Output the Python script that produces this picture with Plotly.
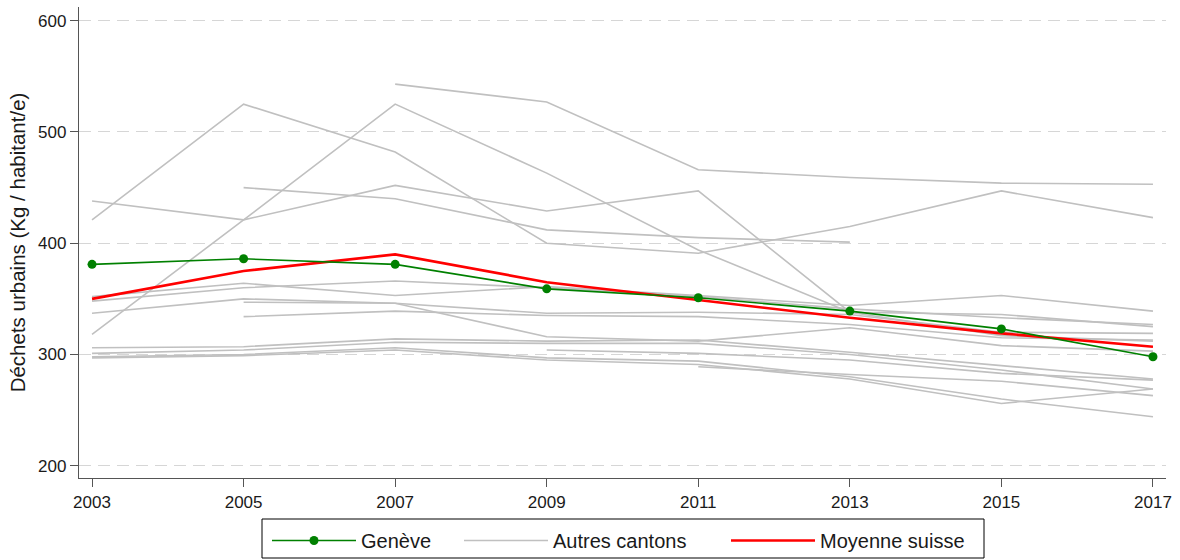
import plotly.graph_objects as go

years = [2003, 2005, 2007, 2009, 2011, 2013, 2015, 2017]
tick_years = [2003, 2005, 2007, 2009, 2011, 2013, 2015, 2017]
y_ticks = [200, 300, 400, 500, 600]

geneve = [381, 386, 381, 359, 351, 339, 323, 298]
moyenne_suisse = [350, 375, 390, 365, 349, 333, 319, 307]

canton_01 = [None, None, 543, 527, 466, 459, 454, 453]
canton_02 = [421, 525, 482, 400, 391, 415, 447, 423]
canton_03 = [None, 450, 440, 412, 405, 401, None, None]
canton_04 = [438, 421, 452, 429, 447, 338, 317, 312]
canton_05 = [318, 421, 525, 463, 394, 338, 336, 325]
canton_06 = [352, 364, 353, 361, 353, 344, 353, 339]
canton_07 = [348, 360, 366, 360, 352, 341, 333, 327]
canton_08 = [337, 350, 346, 337, 338, 336, 320, 319]
canton_09 = [None, 334, 339, 335, 334, 327, 315, 313]
canton_10 = [None, 347, 346, 316, 312, 324, 308, 303]
canton_11 = [306, 307, 314, 312, 313, 302, 290, 278]
canton_12 = [301, 304, 311, 310, 310, 300, 286, 269]
canton_13 = [298, 300, 306, 297, 294, 280, 260, 244]
canton_14 = [297, 299, 304, 295, 291, 278, 256, 269]
canton_15 = [None, None, None, 304, 301, 295, 283, 277]
canton_16 = [None, None, None, None, 289, 282, 276, 263]

autres = [canton_01, canton_02, canton_03, canton_04, canton_05, canton_06,
          canton_07, canton_08, canton_09, canton_10, canton_11, canton_12,
          canton_13, canton_14, canton_15, canton_16]

FONT = "Liberation Sans, Arial, sans-serif"
fig = go.Figure()

for i, vals in enumerate(autres):
    fig.add_trace(go.Scatter(
        x=years, y=vals, mode="lines", name="Autres cantons",
        line=dict(color="#c0c0c0", width=1.6),
        legend="legend2", legendgroup="autres", showlegend=(i == 0),
        connectgaps=False, hoverinfo="skip"))

fig.add_trace(go.Scatter(
    x=years, y=moyenne_suisse, mode="lines", name="Moyenne suisse",
    line=dict(color="#ff0000", width=2.6), legend="legend3"))

fig.add_trace(go.Scatter(
    x=years, y=geneve, mode="lines+markers", name="Genève",
    line=dict(color="#008000", width=1.6),
    marker=dict(color="#008000", size=9), legend="legend"))

# plot area in px: left 79, right 1166, top 7, bottom 478
PL, PR, PT, PB = 79, 1166, 7, 478
def px_x(p):
    return (p - PL) / (PR - PL)
def px_y(p):
    return (PB - p) / (PB - PT)

leg_common = dict(orientation="h", yanchor="middle", y=px_y(540.5), xanchor="left",
                  borderwidth=0, font=dict(size=20, family=FONT, color="#1a1a1a"),
                  itemwidth=84, bgcolor="rgba(0,0,0,0)")

fig.add_shape(type="rect", xref="paper", yref="paper",
              x0=px_x(262), x1=px_x(984), y0=px_y(519), y1=px_y(558),
              line=dict(color="black", width=1), fillcolor="white", layer="below")

fig.update_layout(
    width=1180, height=560,
    margin=dict(l=PL, r=1180 - PR, t=PT, b=560 - PB, autoexpand=False),
    paper_bgcolor="white", plot_bgcolor="white",
    font=dict(family=FONT, color="#1a1a1a"),
    showlegend=True,
    legend=dict(leg_common, x=px_x(267)),
    legend2=dict(leg_common, x=px_x(459)),
    legend3=dict(leg_common, x=px_x(726)),
    xaxis=dict(range=[2002.828, 2017.172], tickvals=tick_years,
               ticks="outside", ticklen=8, tickcolor="#555555", tickwidth=1.3,
               showline=True, linecolor="#555555", linewidth=1.3,
               showgrid=False, zeroline=False, tickfont=dict(size=17)),
    yaxis=dict(range=[189, 612.3], tickvals=y_ticks,
               ticks="outside", ticklen=8, tickcolor="#555555", tickwidth=1.3,
               showline=True, linecolor="#555555", linewidth=1.3,
               showgrid=True, gridcolor="#d6d6d6", gridwidth=1.3, griddash="12px,7px",
               zeroline=False, tickfont=dict(size=17),
               title=dict(text="Déchets urbains (Kg / habitant/e)", font=dict(size=20.5), standoff=6)),
)

fig.write_html("out.html", config={"displayModeBar": False},
               post_script="document.body.style.margin='0';")
